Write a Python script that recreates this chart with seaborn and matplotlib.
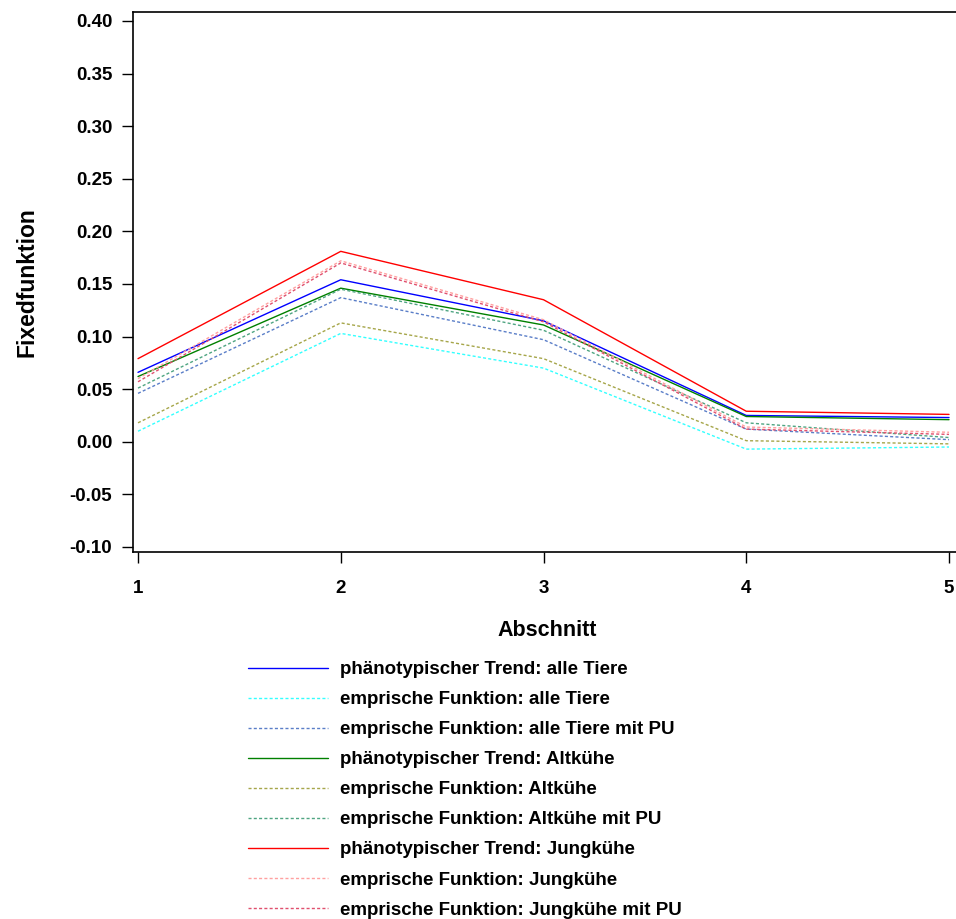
import matplotlib
matplotlib.use("Agg")
import matplotlib.pyplot as plt
import seaborn as sns
import pandas as pd

# Abschnitte (Laktationsabschnitte)
abschnitt = [1, 2, 3, 4, 5]

# Fixedfunktion je Abschnitt
trend_alle = [0.066, 0.154, 0.115, 0.025, 0.023]
emp_alle = [0.010, 0.103, 0.070, -0.007, -0.005]
emp_alle_pu = [0.046, 0.137, 0.097, 0.012, 0.002]
trend_alt = [0.062, 0.146, 0.111, 0.024, 0.021]
emp_alt = [0.018, 0.113, 0.079, 0.001, -0.002]
emp_alt_pu = [0.051, 0.145, 0.106, 0.018, 0.004]
trend_jung = [0.079, 0.181, 0.135, 0.029, 0.026]
emp_jung = [0.060, 0.172, 0.116, 0.014, 0.009]
emp_jung_pu = [0.057, 0.170, 0.114, 0.012, 0.007]

labels = [
    "phänotypischer Trend: alle Tiere",
    "emprische Funktion: alle Tiere",
    "emprische Funktion: alle Tiere mit PU",
    "phänotypischer Trend: Altkühe",
    "emprische Funktion: Altkühe",
    "emprische Funktion: Altkühe mit PU",
    "phänotypischer Trend: Jungkühe",
    "emprische Funktion: Jungkühe",
    "emprische Funktion: Jungkühe mit PU",
]
series = [trend_alle, emp_alle, emp_alle_pu,
          trend_alt, emp_alt, emp_alt_pu,
          trend_jung, emp_jung, emp_jung_pu]

y_ticks = [-0.10, -0.05, 0.00, 0.05, 0.10, 0.15, 0.20, 0.25, 0.30, 0.35, 0.40]

colors = ["#0000ff", "#33ffff", "#5a7ec8",
          "#008000", "#a6a64a", "#4fa582",
          "#ff0000", "#ffa0a0", "#e0506e"]
dotted = (0, (2.2, 1.6))
styles = ["-", dotted, dotted, "-", dotted, dotted, "-", dotted, dotted]

sns.set_style("white")
plt.rcParams["font.family"] = ["Liberation Sans", "DejaVu Sans"]
plt.rcParams["font.weight"] = "bold"
plt.rcParams["text.color"] = "black"
plt.rcParams["axes.labelcolor"] = "black"
plt.rcParams["xtick.color"] = "black"
plt.rcParams["ytick.color"] = "black"

W, H = 956, 919
fig = plt.figure(figsize=(W / 100, H / 100), dpi=100)
ax = fig.add_axes([133 / W, 1 - 552 / H, (962 - 133) / W, (552 - 11.7) / H])

for vals, lab, col, ls in zip(series, labels, colors, styles):
    df = pd.DataFrame({"Abschnitt": abschnitt, "Fixedfunktion": vals})
    sns.lineplot(data=df, x="Abschnitt", y="Fixedfunktion", ax=ax,
                 color=col, linestyle=ls, linewidth=1.0, label=lab,
                 legend=False)

ax.set_xlim(0.9753, 5.064)
ax.set_ylim(-0.1048, 0.4088)
ax.set_xticks(abschnitt)
ax.set_xticklabels([str(a) for a in abschnitt])
ax.set_yticks(y_ticks)
ax.set_yticklabels([f"{v:.2f}" for v in y_ticks])

for side in ["left", "bottom", "top"]:
    ax.spines[side].set_visible(True)
    ax.spines[side].set_color("black")
    ax.spines[side].set_linewidth(1.2)
ax.spines["right"].set_visible(False)

ax.tick_params(axis="both", direction="out", length=8, width=1.0,
               color="black", labelsize=13.5, labelcolor="black")
ax.tick_params(axis="y", pad=7, left=True)
ax.tick_params(axis="x", pad=12, bottom=True)
for t in ax.get_xticklabels() + ax.get_yticklabels():
    t.set_fontweight("bold")

ax.set_xlabel("Abschnitt", fontsize=15.5, fontweight="bold", labelpad=17)
ax.set_ylabel("Fixedfunktion", fontsize=16.5, fontweight="bold", labelpad=22)

handles, labs = ax.get_legend_handles_labels()
fig.legend(handles, labs, loc="upper left",
           bbox_to_anchor=(248 / W, 1 - 661 / H),
           frameon=False, borderpad=0, borderaxespad=0,
           handlelength=4.27, handletextpad=0.64, labelspacing=0.69,
           prop={"family": "Liberation Sans", "weight": "bold", "size": 13.5})

fig.savefig("out.png", dpi=100)
